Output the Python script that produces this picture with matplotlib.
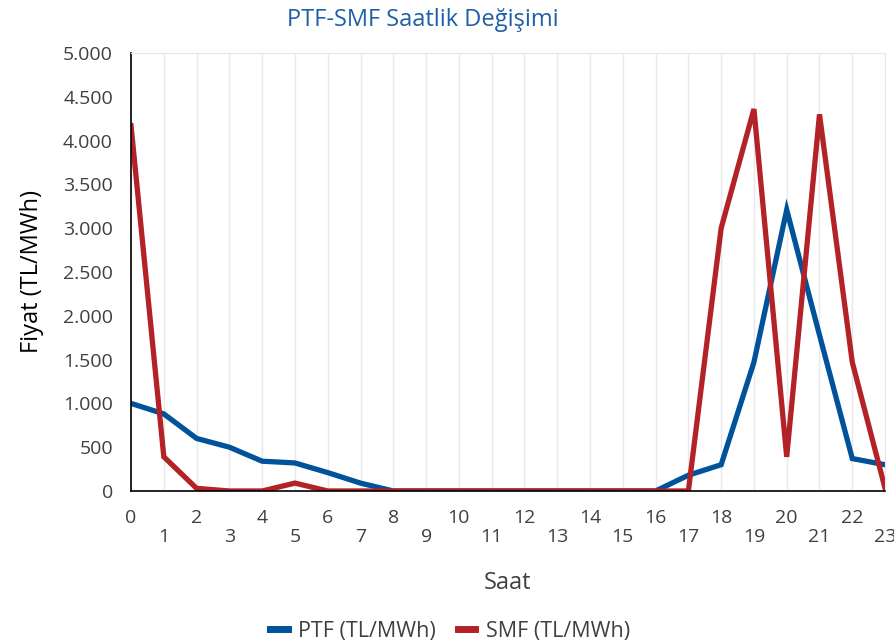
import matplotlib
matplotlib.use('agg')
import matplotlib.pyplot as plt
from matplotlib.ticker import FuncFormatter, MultipleLocator

hours = list(range(24))
ptf = [1000, 880, 600, 500, 340, 320, 210, 90, 0, 0, 0, 0, 0, 0, 0, 0, 0,
       180, 300, 1470, 3210, 1780, 370, 300]
smf = [4170, 390, 30, 0, 0, 90, 0, 0, 0, 0, 0, 0, 0, 0, 0, 0, 0,
       0, 3000, 4360, 390, 4300, 1470, 30]
hour_labels = [str(h) if h % 2 == 0 else '\n' + str(h) for h in hours]

plt.rcParams['font.family'] = ['Open Sans', 'DejaVu Sans']
text_color = '#404040'

fig = plt.figure(figsize=(8.95, 6.44), dpi=100)
ax = fig.add_axes([0.1464, 0.2376, 0.8425, 0.6801])

ax.plot(hours, ptf, color='#00529B', lw=3.8, label='PTF (TL/MWh)', solid_joinstyle='miter')
ax.plot(hours, smf, color='#B22226', lw=3.8, label='SMF (TL/MWh)', solid_joinstyle='miter')

ax.set_xlim(0, 23)
ax.set_ylim(0, 5000)
ax.yaxis.set_major_locator(MultipleLocator(500))
ax.yaxis.set_major_formatter(FuncFormatter(lambda v, p: f'{int(v):,}'.replace(',', '.')))
ax.set_xticks(hours)
ax.set_xticklabels(hour_labels, linespacing=1.05)
ax.tick_params(length=0, labelsize=14, colors=text_color)
ax.tick_params(axis='x', pad=13)
ax.tick_params(axis='y', pad=13)

ax.grid(axis='x', color='#e8e8e8', lw=1)
ax.set_axisbelow(True)
for s in ['top', 'right']:
    ax.spines[s].set_color('#e8e8e8')
for s in ['left', 'bottom']:
    ax.spines[s].set_color('black')
    ax.spines[s].set_linewidth(1.2)

ax.set_xlabel('Saat', fontsize=17, color=text_color, labelpad=18)
ax.set_ylabel('Fiyat (TL/MWh)', fontsize=17, color='black', labelpad=14)
fig.text(0.4726, 0.969, 'PTF-SMF Saatlik Değişimi', fontsize=17, color='#1F5FA8',
         ha='center', va='center')

leg = fig.legend(loc='center', bbox_to_anchor=(0.503, 0.02), ncol=2, frameon=False,
                 fontsize=15.5, handlelength=0.8, handletextpad=0.5, columnspacing=1.0)
for t in leg.get_texts():
    t.set_color(text_color)
for h in leg.get_lines():
    h.set_linewidth(5)

fig.savefig('out.png', dpi=100)
